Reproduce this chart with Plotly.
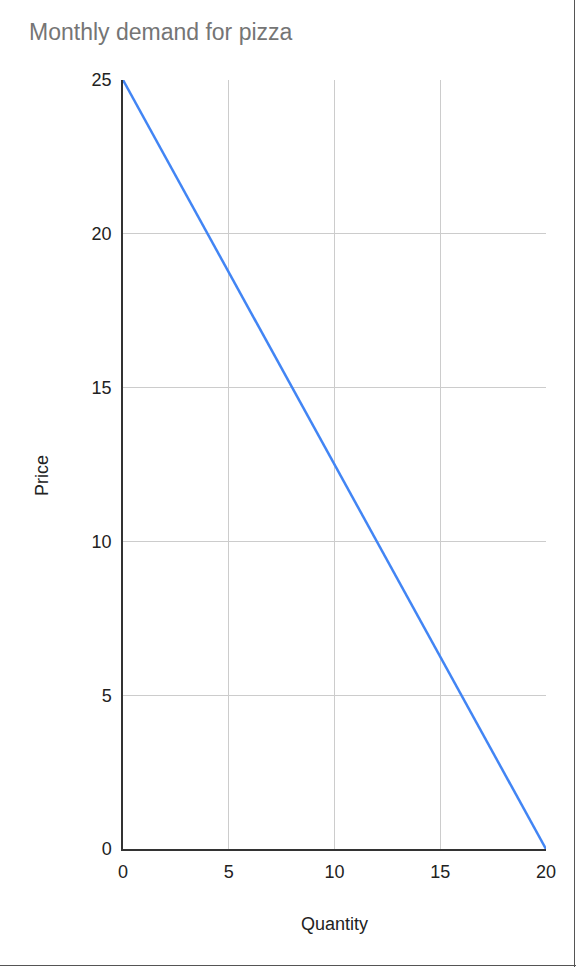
import plotly.graph_objects as go

quantity = [0, 20]
price = [25, 0]
x_ticks = [0, 5, 10, 15, 20]
y_ticks = [0, 5, 10, 15, 20, 25]

W, H = 576, 967
L, R, T, B = 123, 30, 80, 118
pw, ph = W - L - R, H - T - B

fig = go.Figure()
fig.add_trace(go.Scatter(x=quantity, y=price, mode="lines",
                         line=dict(color="#4285F4", width=2.5), showlegend=False,
                         cliponaxis=False))

fig.update_layout(
    width=W, height=H,
    margin=dict(l=L, r=R, t=T, b=B),
    paper_bgcolor="white", plot_bgcolor="white",
    font=dict(family="Liberation Sans, Arial, sans-serif", color="#222222", size=18),
    title=dict(text="Monthly demand for pizza", x=29 / W, xanchor="left",
               y=1 - 32 / H, yanchor="middle",
               font=dict(size=23, color="#757575")),
    xaxis=dict(range=[0, 20], tickvals=x_ticks, showgrid=True, gridcolor="#cccccc",
               gridwidth=1, zeroline=False, showline=True, linecolor="#333333",
               linewidth=1.5, ticks="", ticklabelstandoff=6,
               tickfont=dict(size=18, color="#222222"),
               title=dict(text="Quantity", font=dict(size=18, color="#222222"), standoff=36)),
    yaxis=dict(range=[0, 25], tickvals=y_ticks, showgrid=True, gridcolor="#cccccc",
               gridwidth=1, zeroline=False, showline=True, linecolor="#333333",
               linewidth=1.5, ticks="", ticklabelstandoff=6,
               tickfont=dict(size=18, color="#222222")),
    annotations=[
        dict(text="Price", xref="paper", yref="paper",
             x=(42 - L) / pw, y=(H - B - 476) / ph, xanchor="center", yanchor="middle",
             textangle=-90, showarrow=False, font=dict(size=18, color="#222222")),
    ],
    shapes=[
        dict(type="line", xref="paper", yref="paper",
             x0=(W - 1.5 - L) / pw, x1=(W - 1.5 - L) / pw,
             y0=(H - B - H) / ph, y1=(H - B) / ph,
             line=dict(color="#555555", width=1)),
        dict(type="line", xref="paper", yref="paper",
             x0=-L / pw, x1=(W - L) / pw,
             y0=-(B - 1.5) / ph, y1=-(B - 1.5) / ph,
             line=dict(color="#555555", width=1)),
    ],
)

fig.write_html("out.html", config={"displayModeBar": False},
               post_script="document.body.style.margin='0';")
